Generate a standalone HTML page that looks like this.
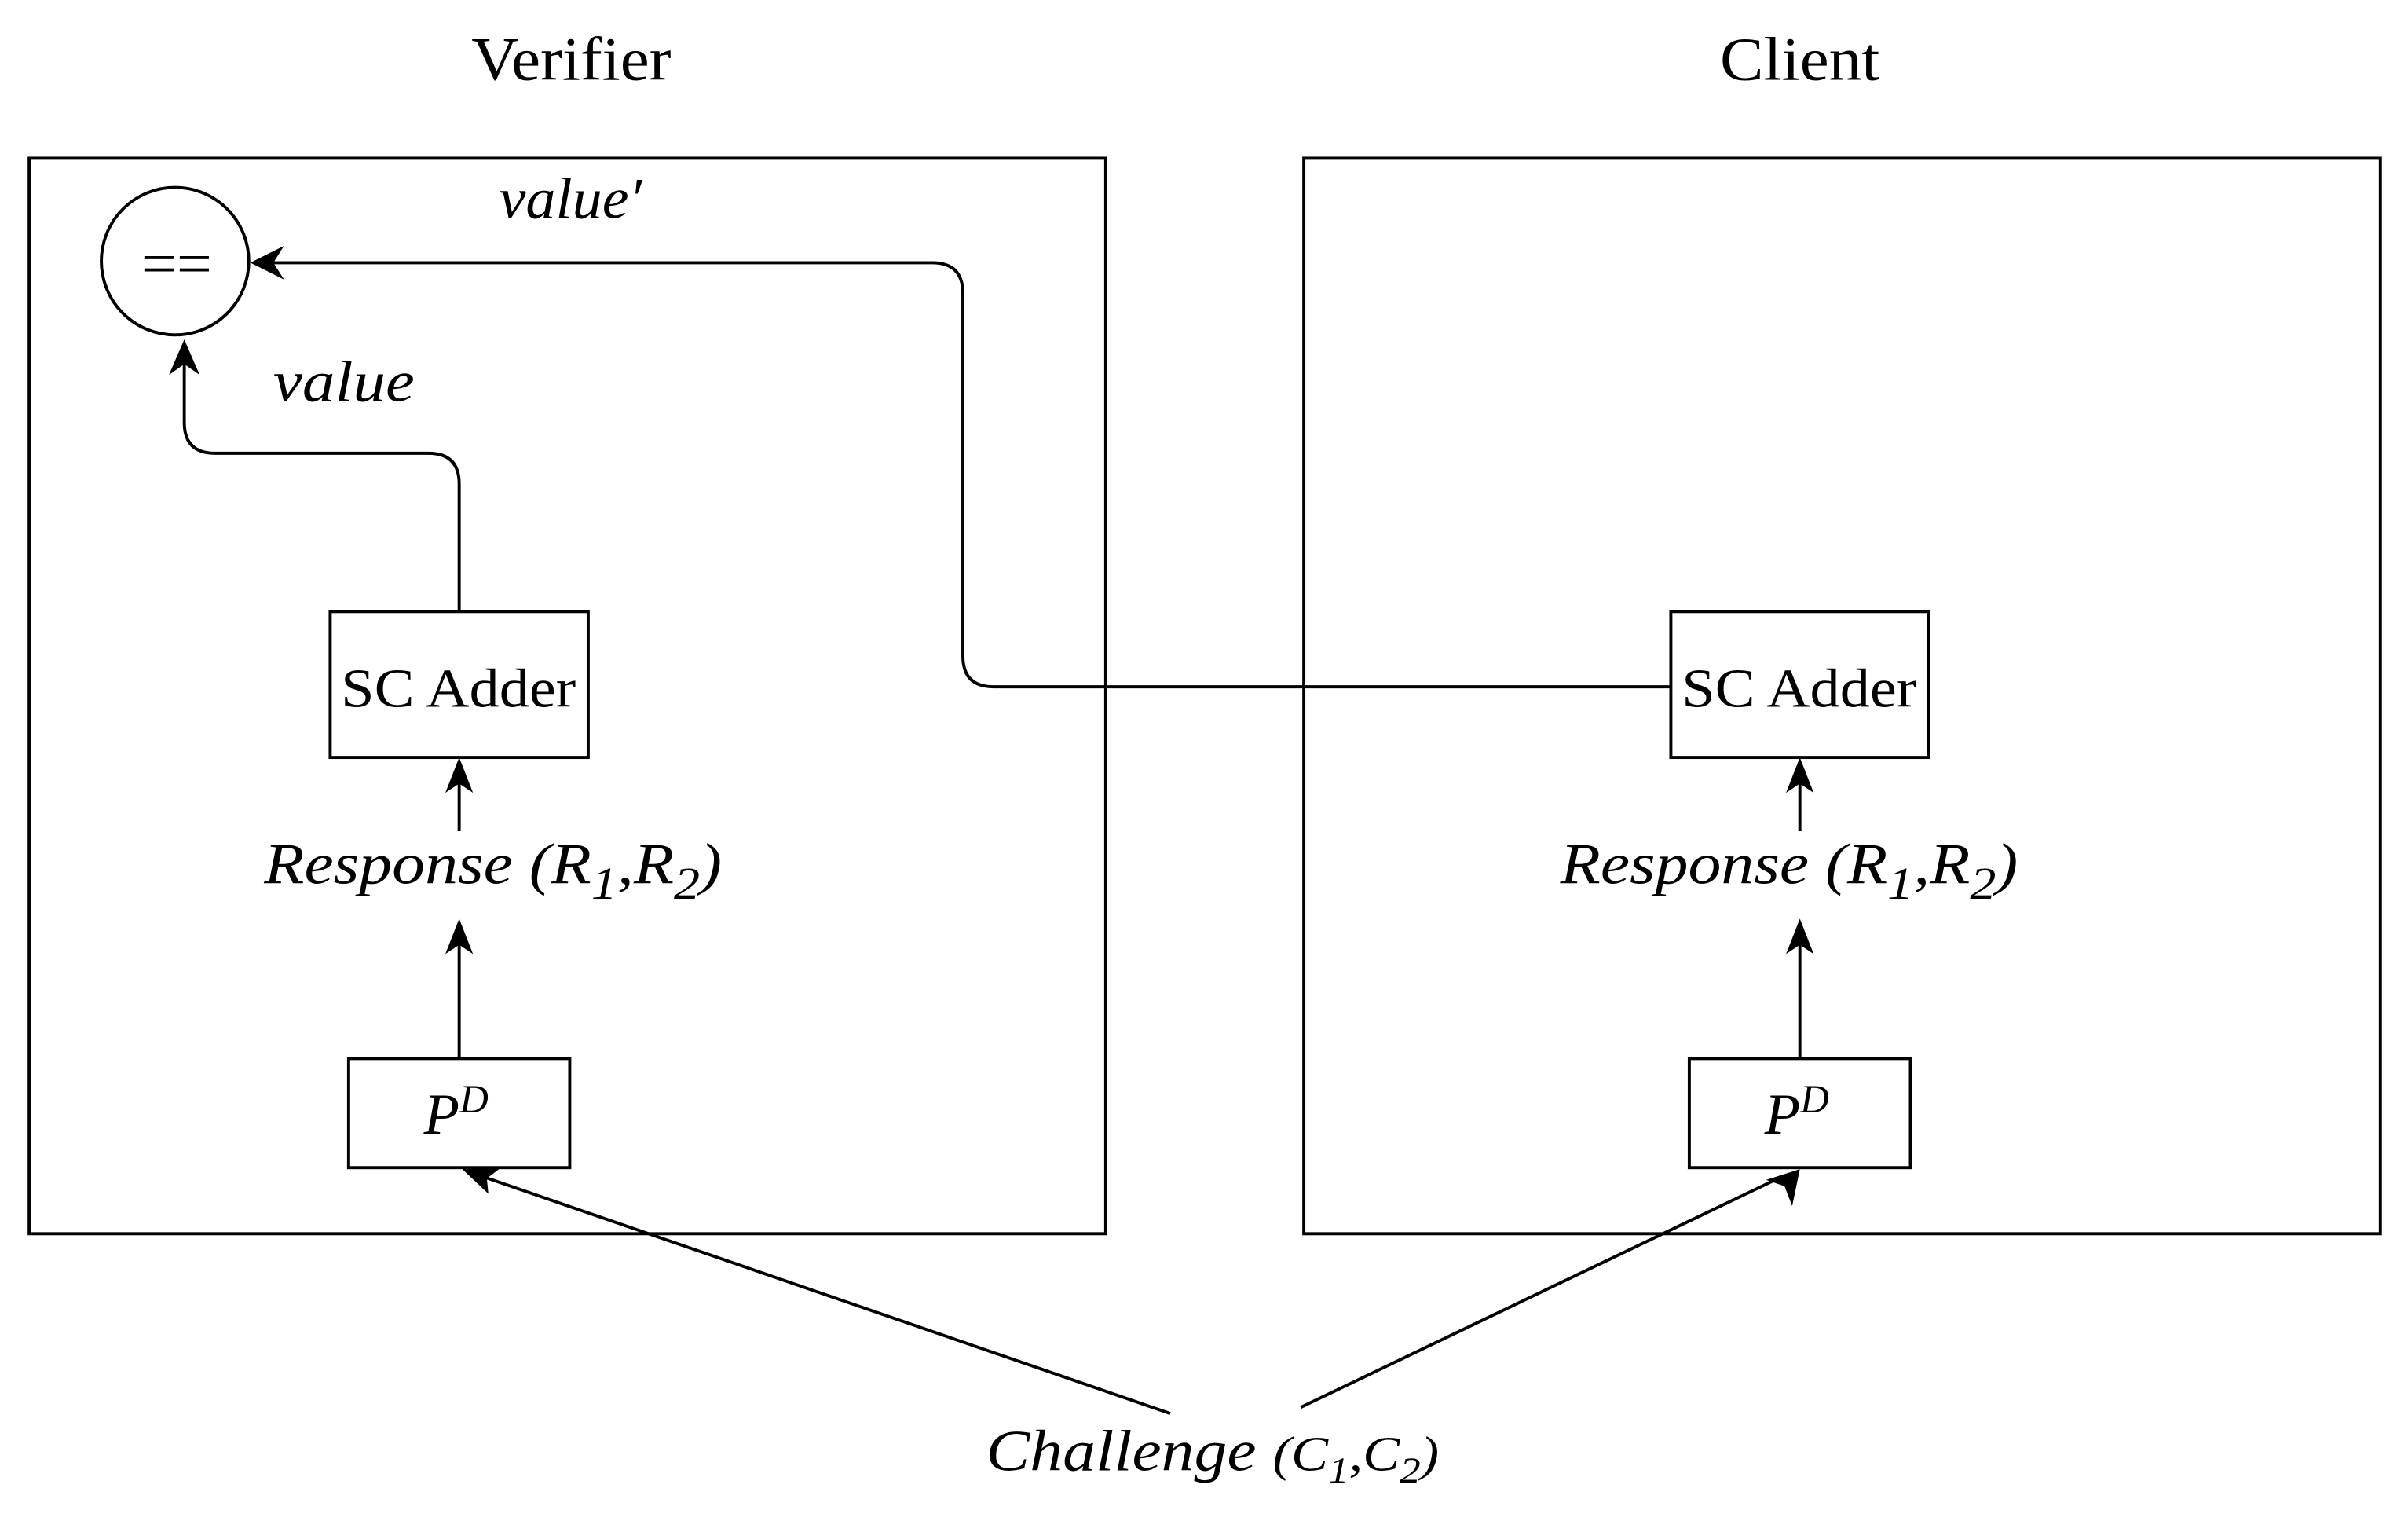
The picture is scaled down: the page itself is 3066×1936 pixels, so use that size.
<!DOCTYPE html>
<html><head><meta charset="utf-8"><style>html,body{margin:0;padding:0;background:#fff}svg{display:block}</style></head>
<body>
<svg width="3066" height="1936" viewBox="0 0 1568 990" preserveAspectRatio="none" xmlns="http://www.w3.org/2000/svg" font-family="'Liberation Serif', serif">
<g fill="none" stroke="#000" stroke-width="2">
<rect x="19" y="103" width="701" height="700"/>
<rect x="849" y="103" width="701" height="700"/>
<ellipse cx="114" cy="170" rx="48" ry="48"/>
<rect x="215" y="398" width="168" height="95"/>
<rect x="1088" y="398" width="168" height="95"/>
<rect x="227" y="689" width="144" height="71"/>
<rect x="1100" y="689" width="144" height="71"/>
<path d="M1088 447 H647 Q627 447 627 427 V191 Q627 171 607 171 H175"/>
<path d="M299 398 V315 Q299 295 279 295 H140 Q120 295 120 275 V232"/>
<path d="M299 541 V505"/>
<path d="M299 688 V610"/>
<path d="M1172 541 V505"/>
<path d="M1172 688 V610"/>
<path d="M762 920 L312 765"/>
<path d="M847 916 L1160 766"/>
</g>
<g fill="#000">
<path d="M163 171 L185 160 L178 171 L185 182 Z"/>
<path d="M120 221 L110 244 L120 237 L130 244 Z"/>
<path d="M299 493 L290 516 L299 510 L308 516 Z"/>
<path d="M299 598 L290 621 L299 615 L308 621 Z"/>
<path d="M1172 493 L1163 516 L1172 510 L1181 516 Z"/>
<path d="M1172 598 L1163 621 L1172 615 L1181 621 Z"/>
<path d="M300 760 L325 761 L317 767 L318 777 Z"/>
<path d="M1172 761 L1167 785 L1162 772 L1150 768 Z"/>
</g>
<g fill="#000">
<text x="372" y="52" font-size="40" text-anchor="middle" textLength="130" lengthAdjust="spacingAndGlyphs">Verifier</text>
<text x="1172" y="52" font-size="40" text-anchor="middle" textLength="104" lengthAdjust="spacingAndGlyphs">Client</text>
<text x="115" y="185" font-size="40" text-anchor="middle" textLength="46" lengthAdjust="spacingAndGlyphs">==</text>
<text x="325" y="142" font-size="38" font-style="italic" textLength="93" lengthAdjust="spacingAndGlyphs">value′</text>
<text x="178" y="261" font-size="38" font-style="italic" textLength="92" lengthAdjust="spacingAndGlyphs">value</text>
<text x="222" y="460" font-size="36" textLength="153" lengthAdjust="spacingAndGlyphs">SC Adder</text>
<text x="1095" y="460" font-size="36" textLength="153" lengthAdjust="spacingAndGlyphs">SC Adder</text>
<text x="172" y="575" font-size="38" font-style="italic" textLength="298" lengthAdjust="spacingAndGlyphs">Response (R<tspan font-size="30" dy="10">1</tspan><tspan dy="-10">,R</tspan><tspan font-size="30" dy="10">2</tspan><tspan dy="-10">)</tspan></text>
<text x="1016" y="575" font-size="38" font-style="italic" textLength="298" lengthAdjust="spacingAndGlyphs">Response (R<tspan font-size="30" dy="10">1</tspan><tspan dy="-10">,R</tspan><tspan font-size="30" dy="10">2</tspan><tspan dy="-10">)</tspan></text>
<text x="276" y="738" font-size="38" font-style="italic">P<tspan font-size="26" dy="-14">D</tspan></text>
<text x="1149" y="738" font-size="38" font-style="italic">P<tspan font-size="26" dy="-14">D</tspan></text>
<text x="642" y="957" font-size="38" font-style="italic" textLength="295" lengthAdjust="spacingAndGlyphs">Challenge <tspan font-size="32">(C</tspan><tspan font-size="24" dy="8">1</tspan><tspan font-size="32" dy="-8">,C</tspan><tspan font-size="24" dy="8">2</tspan><tspan font-size="32" dy="-8">)</tspan></text>
</g>
</svg>
</body></html>
